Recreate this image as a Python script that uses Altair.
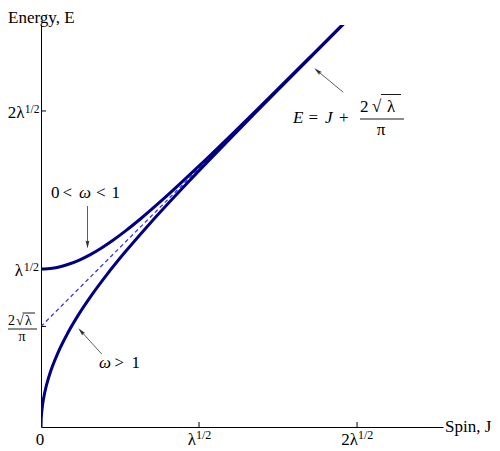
import altair as alt
import pandas as pd

# ---- data (units of sqrt(lambda)) ----
J_upper = [0.0, 0.0712, 0.1147, 0.1643, 0.2429, 0.3121, 0.3806, 0.4533, 0.5352, 0.6343,
           0.7678, 0.9887, 1.2069, 1.3680, 1.4956, 1.7145, 1.9339]
E_upper = [1.0, 1.0050, 1.0129, 1.0265, 1.0565, 1.0911, 1.1316, 1.1804, 1.2412, 1.3212,
           1.4370, 1.6413, 1.8513, 2.0092, 2.1352, 2.3527, 2.5714]
J_lower = [0.0, 0.0010, 0.0025, 0.0050, 0.0101, 0.0255, 0.0520, 0.1086, 0.1710, 0.2407,
           0.3205, 0.4145, 0.5307, 0.6867, 0.9380, 1.1764, 1.3473, 1.4805, 1.7059, 1.9291]
E_lower = [0.0, 0.0447, 0.0708, 0.1003, 0.1421, 0.2265, 0.3246, 0.4725, 0.5976, 0.7157,
           0.8346, 0.9614, 1.1054, 1.2853, 1.5571, 1.8046, 1.9788, 2.1137, 2.3409, 2.5649]
J_asym = [0.0, 1.91]
E_asym = [0.6366, 2.5466]
x_ticks = [1, 2]
y_ticks = [0.6366, 1, 2]

F = "Liberation Serif"
W = H = 402
OX, OY = 41, 25  # page position of plot's top-left
xs = alt.Scale(domain=[0, 2.544], nice=False, zero=False)
ys = alt.Scale(domain=[0, 2.544], nice=False, zero=False)
one = pd.DataFrame({"k": [0]})

AX = alt.Axis(domain=True, domainColor="black", domainWidth=1, ticks=False, labels=False,
              grid=False, title=None)

curves_df = pd.DataFrame({
    "J": J_upper + J_lower,
    "E": E_upper + E_lower,
    "branch": ["upper"] * len(J_upper) + ["lower"] * len(J_lower),
})
asym_df = pd.DataFrame({"J": J_asym, "E": E_asym})

asym = alt.Chart(asym_df).mark_line(color="#2828ff", strokeWidth=1.2, strokeDash=[4, 3], clip=True).encode(
    x=alt.X("J:Q", scale=xs, axis=AX),
    y=alt.Y("E:Q", scale=ys, axis=AX),
)
curves = alt.Chart(curves_df).mark_line(color="#000080", strokeWidth=3, interpolate="monotone", clip=True).encode(
    x=alt.X("J:Q", scale=xs, axis=AX),
    y=alt.Y("E:Q", scale=ys, axis=AX),
    detail="branch:N",
)

xt = alt.Chart(pd.DataFrame({"v": x_ticks})).mark_rule(color="black", strokeWidth=1).encode(
    x=alt.X("v:Q", scale=xs, axis=AX), y=alt.value(H), y2=alt.value(H - 5))
yt = alt.Chart(pd.DataFrame({"v": y_ticks})).mark_rule(color="black", strokeWidth=1).encode(
    y=alt.Y("v:Q", scale=ys, axis=AX), x=alt.value(0), x2=alt.value(5))


def xlabel(v, t, dx, base_y, size, align):
    return alt.Chart(pd.DataFrame({"v": [v]})).mark_text(
        text=t, dx=dx, align=align, baseline="alphabetic", fontSize=size, font=F, color="black"
    ).encode(x=alt.X("v:Q", scale=xs, axis=AX), y=alt.value(base_y - OY))


def ylabel(v, t, px, dy, size, align):
    return alt.Chart(pd.DataFrame({"v": [v]})).mark_text(
        text=t, dy=dy, align=align, baseline="alphabetic", fontSize=size, font=F, color="black"
    ).encode(y=alt.Y("v:Q", scale=ys, axis=AX), x=alt.value(px - OX))


def ptext(t, px, py, size, italic=False, align="left"):
    kw = dict(fontStyle="italic") if italic else {}
    return alt.Chart(one).mark_text(
        text=t, align=align, baseline="alphabetic", fontSize=size, font=F, color="black", **kw
    ).encode(x=alt.value(px - OX), y=alt.value(py - OY))


def prule(x1, y1, x2, y2, color="black", width=1.0):
    return alt.Chart(one).mark_rule(color=color, strokeWidth=width).encode(
        x=alt.value(x1 - OX), y=alt.value(y1 - OY), x2=alt.value(x2 - OX), y2=alt.value(y2 - OY))


HEAD = "M0,-1L0.38,0.6L0,0.4L-0.38,0.6Z"


def arrow(x1, y1, x2, y2, ang, cx, cy):
    line = prule(x1, y1, x2, y2, color="#333333", width=0.8)
    head = alt.Chart(one).mark_point(shape=HEAD, filled=True, size=100, angle=ang,
                                     color="#333333", opacity=1, strokeWidth=0).encode(
        x=alt.value(cx - OX), y=alt.value(cy - OY))
    return [line, head]


layers = [asym, curves, xt, yt]

# axis titles
layers += [ptext("Energy, E", 8, 23.3, 17), ptext("Spin, J", 445, 432, 17)]
# x tick labels
layers += [ptext("0", 40, 445, 17, align="center")]
layers += [xlabel(1, "λ", -3, 445, 17, "right"), xlabel(1, "1/2", -3, 439, 12, "left")]
layers += [xlabel(2, "2λ", 1, 445, 17, "right"), xlabel(2, "1/2", 1, 439, 12, "left")]
# y tick labels
layers += [ylabel(1, "λ", 23, 7, 17, "right"), ylabel(1, "1/2", 39, 2, 12, "right")]
layers += [ylabel(2, "2λ", 24.5, 7, 17, "right"), ylabel(2, "1/2", 39.5, 2, 11.5, "right")]
# y tick label 2 sqrt(lambda)/pi
layers += [ptext("2", 8, 325, 14), ptext("√", 16, 325, 14), ptext("λ", 25, 325, 14),
           prule(22.5, 313, 35, 313, width=0.9), prule(8, 329, 37, 329, width=0.9),
           ptext("π", 22, 340.5, 14, align="center")]

# annotation 0 < omega < 1
layers += [ptext("0", 51, 198, 17), ptext("<", 62.5, 198, 17), ptext("ω", 79, 198, 17, italic=True),
           ptext("<", 96, 198, 17), ptext("1", 111.5, 198, 17)]
layers += arrow(87.5, 206, 87.5, 246, 180, 87.5, 243.5)

# annotation omega > 1
layers += [ptext("ω", 99, 368, 17, italic=True), ptext(">", 114.5, 368, 17), ptext("1", 131.5, 368, 17)]
layers += arrow(101.7, 354, 80.5, 330.7, 317.7, 81.7, 332.0)

# asymptote equation
layers += [ptext("E", 293, 123, 17, italic=True), ptext("=", 308.5, 123, 17), ptext("J", 325, 123, 17, italic=True),
           ptext("+", 339, 123, 17),
           ptext("2", 360, 111.5, 17), ptext("√", 372, 111.5, 17), ptext("λ", 387, 111.5, 17),
           prule(381, 94.5, 401, 94.5, width=0.9), prule(360, 119, 404, 119, width=0.9),
           ptext("π", 381, 135, 17, align="center")]
layers += arrow(343.3, 92.3, 316.6, 70.2, 309.6, 318.2, 71.5)

chart = alt.layer(*layers).properties(
    width=W, height=H,
    autosize=alt.AutoSizeParams(type="none"),
    padding={"left": 33, "top": 17, "right": 49, "bottom": 24},
).configure_view(strokeWidth=0)

chart.save("out.html", embed_options={"renderer": "svg", "actions": False})
